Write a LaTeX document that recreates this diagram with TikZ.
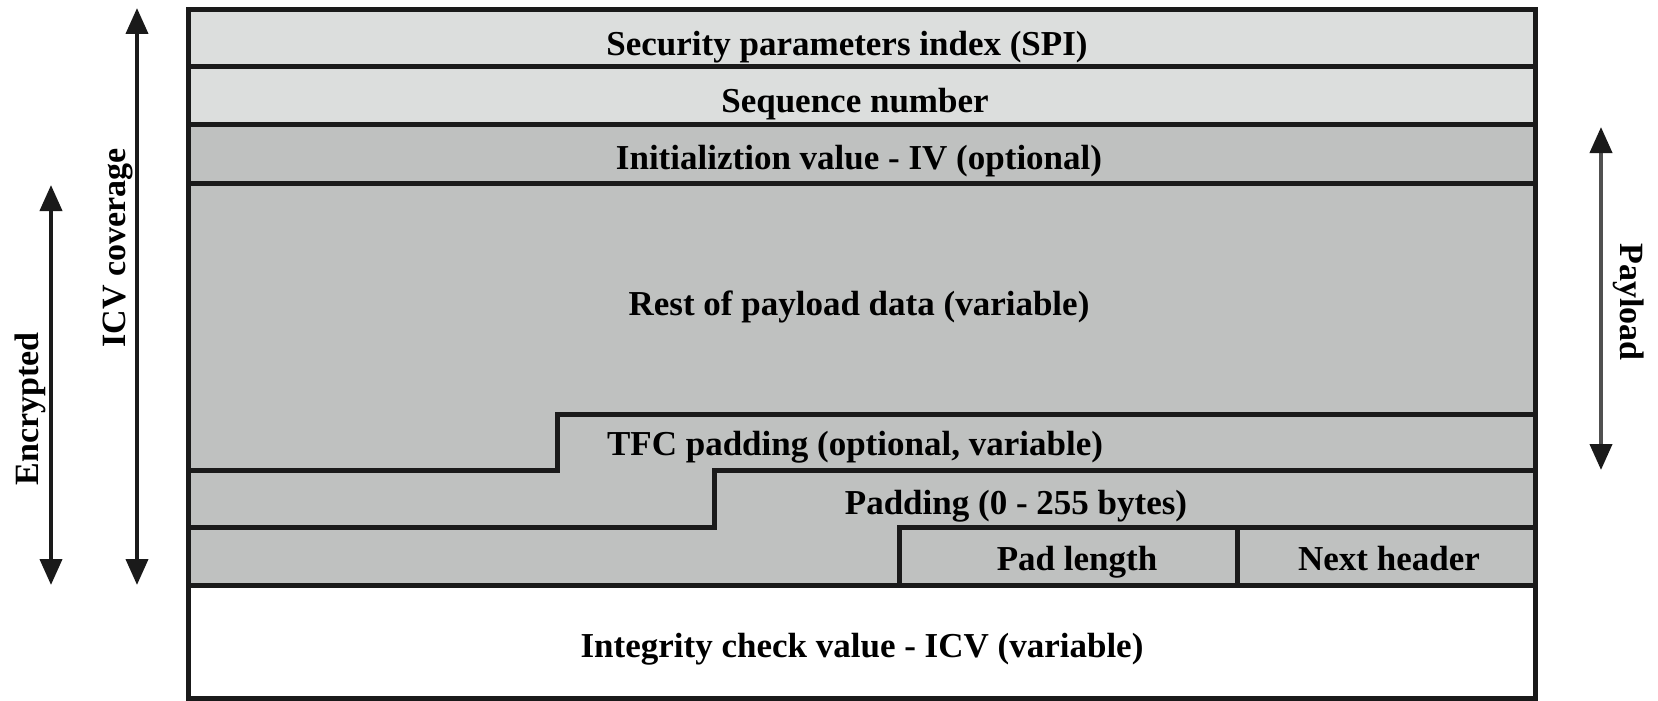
\documentclass[tikz,border=0pt]{standalone}
\usepackage{fontspec}
\setmainfont{Liberation Serif}
\usetikzlibrary{arrows.meta}
\definecolor{lightrow}{HTML}{DCDEDD}
\definecolor{midrow}{HTML}{BFC1C0}
\definecolor{edge}{HTML}{1A1A1A}
\definecolor{paygray}{HTML}{505050}
\begin{document}
\begin{tikzpicture}[x=1pt,y=-1pt,
  field/.style={font=\fontsize{35}{40}\selectfont\bfseries, inner sep=0pt, text height=23pt, text depth=0pt, anchor=center},
  frame/.style={draw=edge, line width=5pt, line join=miter},
  span/.style={{Triangle[width=22pt,length=26pt,color=edge]}-{Triangle[width=22pt,length=26pt,color=edge]}, line width=4pt},
  lab/.style={font=\fontsize{34}{40}\selectfont\bfseries, inner sep=0pt, text height=23pt, text depth=0pt, anchor=center}]
\useasboundingbox (0,0) rectangle (1658,701);
% fills
\fill[lightrow] (188,10) rectangle (1535,124);
\fill[midrow] (188,124) rectangle (1535,585);
\fill[white] (188,585) rectangle (1535,698);
% lines
\draw[frame] (188,67) -- (1535,67);
\draw[frame] (188,124) -- (1535,124);
\draw[frame] (188,183) -- (1535,183);
\draw[frame] (188,470) -- (557,470) -- (557,414) -- (1535,414);
\draw[frame] (188,527) -- (714,527) -- (714,470) -- (1535,470);
\draw[frame] (899,585) -- (899,527) -- (1535,527);
\draw[frame] (1237,527) -- (1237,585);
\draw[frame] (188,585) -- (1535,585);
\draw[frame] (188,10) rectangle (1535,698);
% field texts
\node[field] (spi) at (847,44) {Security parameters index (SPI)};
\node[field] (seq) at (855,101) {Sequence number};
\node[field] (iv) at (859,158) {Initializtion value - IV (optional)};
\node[field] (rest) at (859,304) {Rest of payload data (variable)};
\node[field] (tfc) at (855,444) {TFC padding (optional, variable)};
\node[field] (pad) at (1016,503) {Padding (0 - 255 bytes)};
\node[field] (padlen) at (1077,559) {Pad length};
\node[field] (nexthdr) at (1389,559) {Next header};
\node[field] (icv) at (862,646) {Integrity check value - ICV (variable)};
% side arrows
\coordinate (encTop) at (51,185);
\coordinate (encBot) at (51,585);
\coordinate (icvTop) at (137,8);
\coordinate (icvBot) at (137,585);
\coordinate (payTop) at (1601,127);
\coordinate (payBot) at (1601,470);
\draw[span, draw=edge] (encTop) -- (encBot);
\draw[span, draw=edge] (icvTop) -- (icvBot);
\draw[span, draw=paygray] (payTop) -- (payBot);
\node[lab, rotate=90] (enc) at (27,409) {Encrypted};
\node[lab, rotate=90] (icvcov) at (114,248) {ICV coverage};
\node[lab, rotate=-90] (pay) at (1632,302) {Payload};
\end{tikzpicture}
\end{document}
